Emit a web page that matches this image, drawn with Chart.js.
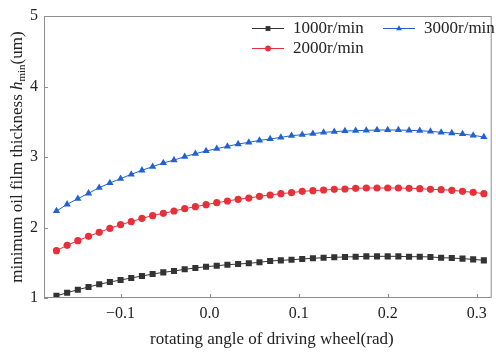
<!DOCTYPE html>
<html>
<head>
<meta charset="utf-8">
<script src="https://cdn.jsdelivr.net/npm/chart.js@4"></script>
<style>
  html, body { margin: 0; padding: 0; background: #fff; }
  #wrap { width: 496px; height: 352px; }
</style>
</head>
<body>
<div id="wrap"><canvas id="filmChart" width="496" height="352"></canvas></div>
<script>
// rotating angle (rad)
const angles = [-0.172, -0.160, -0.148, -0.136, -0.124, -0.112, -0.100, -0.088, -0.076, -0.064,
                -0.052, -0.040, -0.028, -0.016, -0.004, 0.008, 0.020, 0.032, 0.044, 0.056,
                0.068, 0.080, 0.092, 0.104, 0.116, 0.128, 0.140, 0.152, 0.164, 0.176,
                0.188, 0.200, 0.212, 0.224, 0.236, 0.248, 0.260, 0.272, 0.284, 0.296, 0.308];

// minimum oil film thickness (um)
const h1000 = [1.03, 1.075, 1.118, 1.156, 1.194, 1.227, 1.255, 1.284, 1.312, 1.34,
               1.364, 1.383, 1.407, 1.426, 1.444, 1.458, 1.472, 1.482, 1.492, 1.506,
               1.525, 1.534, 1.543, 1.553, 1.563, 1.572, 1.577, 1.582, 1.586, 1.591,
               1.591, 1.591, 1.591, 1.586, 1.586, 1.582, 1.572, 1.567, 1.558, 1.548, 1.534];
const h2000 = [1.671, 1.747, 1.813, 1.875, 1.932, 1.988, 2.04, 2.083, 2.13, 2.168,
               2.201, 2.234, 2.267, 2.295, 2.324, 2.352, 2.376, 2.40, 2.418, 2.442,
               2.461, 2.48, 2.494, 2.513, 2.522, 2.532, 2.541, 2.546, 2.556, 2.56,
               2.56, 2.56, 2.56, 2.556, 2.551, 2.541, 2.537, 2.528, 2.513, 2.499, 2.48];
const h3000 = [2.234, 2.329, 2.409, 2.485, 2.565, 2.631, 2.693, 2.754, 2.811, 2.863,
               2.915, 2.957, 3.005, 3.047, 3.085, 3.118, 3.151, 3.184, 3.208, 3.236,
               3.255, 3.279, 3.302, 3.317, 3.331, 3.35, 3.359, 3.369, 3.373, 3.378,
               3.383, 3.383, 3.383, 3.378, 3.373, 3.364, 3.35, 3.34, 3.326, 3.307, 3.284];

const seriesNames = ['1000r/min', '2000r/min', '3000r/min'];
const xTicks = [-0.1, 0.0, 0.1, 0.2, 0.3];
const yTicks = [1, 2, 3, 4, 5];

const SERIF = '"Liberation Serif", "Times New Roman", serif';
const AXIS_GRAY = '#8c8c8c';

function toPoints(ys) {
    return angles.map((a, i) => ({ x: a, y: ys[i] }));
}

function makeSet(label, ys, color, style, radius) {
    return {
        label: label,
        data: toPoints(ys),
        borderColor: color,
        backgroundColor: color,
        borderWidth: 1,
        pointStyle: style,
        pointRadius: radius,
        pointBorderWidth: 0,
        pointBackgroundColor: color,
        tension: 0
    };
}

// frame, inward ticks, titles and the two-column legend
const decorPlugin = {
    id: 'decor',
    afterDraw(chart) {
        const ctx = chart.ctx;
        const area = chart.chartArea;
        const xs = chart.scales.x, ys = chart.scales.y;
        ctx.save();

        ctx.strokeStyle = AXIS_GRAY;
        ctx.lineWidth = 1;
        ctx.strokeRect(area.left + 0.5, area.top + 0.5, area.right - area.left - 1, area.bottom - area.top - 1);

        ctx.beginPath();
        xTicks.forEach(v => {
            const px = Math.round(xs.getPixelForValue(v)) + 0.5;
            ctx.moveTo(px, area.bottom);
            ctx.lineTo(px, area.bottom - 4);
        });
        yTicks.forEach(v => {
            const py = Math.round(ys.getPixelForValue(v)) + 0.5;
            ctx.moveTo(area.left, py);
            ctx.lineTo(area.left + 4, py);
        });
        ctx.stroke();

        // x title
        ctx.fillStyle = '#222';
        ctx.font = '17px ' + SERIF;
        ctx.textAlign = 'center';
        ctx.textBaseline = 'middle';
        ctx.fillText('rotating angle of driving wheel(rad)', (area.left + area.right) / 2 + 4, 340);

        // y title with italic h and subscript "min"
        const parts = [
            { t: 'minimum oil film thickness ', f: '17px ' + SERIF, dy: 0 },
            { t: 'h', f: 'italic 17px ' + SERIF, dy: 0 },
            { t: 'min', f: '11px ' + SERIF, dy: 4 },
            { t: '(um)', f: '17px ' + SERIF, dy: 0 }
        ];
        let total = 0;
        parts.forEach(p => { ctx.font = p.f; p.w = ctx.measureText(p.t).width; total += p.w; });
        ctx.translate(18, 157);
        ctx.rotate(-Math.PI / 2);
        ctx.textAlign = 'left';
        let cx = -total / 2;
        parts.forEach(p => {
            ctx.font = p.f;
            ctx.fillText(p.t, cx, p.dy);
            cx += p.w;
        });
        ctx.setTransform(1, 0, 0, 1, 0, 0);

        // legend
        const slots = [
            { ds: 0, x: 252, y: 28 },
            { ds: 2, x: 383, y: 28 },
            { ds: 1, x: 252, y: 48 }
        ];
        slots.forEach(s => {
            const ds = chart.data.datasets[s.ds];
            ctx.strokeStyle = ds.borderColor;
            ctx.lineWidth = 1;
            ctx.beginPath();
            ctx.moveTo(s.x, s.y + 0.5);
            ctx.lineTo(s.x + 32, s.y + 0.5);
            ctx.stroke();
            ctx.fillStyle = ds.borderColor;
            Chart.helpers.drawPoint(ctx, {
                pointStyle: ds.pointStyle,
                radius: ds.pointRadius * 0.8,
                borderWidth: 0,
                rotation: 0
            }, s.x + 16, s.y + 0.5);
            ctx.fillStyle = '#222';
            ctx.font = '17px ' + SERIF;
            ctx.textAlign = 'left';
            ctx.textBaseline = 'middle';
            ctx.fillText(ds.label, s.x + 41, s.y + 1);
        });

        ctx.restore();
    }
};

new Chart(document.getElementById('filmChart'), {
    type: 'line',
    data: {
        datasets: [
            makeSet(seriesNames[0], h1000, '#333333', 'rect', 4.3),
            makeSet(seriesNames[1], h2000, '#e8303a', 'circle', 3.6),
            makeSet(seriesNames[2], h3000, '#2062d0', 'triangle', 4.2)
        ]
    },
    options: {
        responsive: false,
        animation: false,
        layout: { padding: { top: 16, right: 2, left: 0, bottom: 0 } },
        plugins: {
            legend: { display: false },
            tooltip: { enabled: false }
        },
        scales: {
            x: {
                type: 'linear',
                min: -0.186,
                max: 0.3168,
                grid: { display: false, drawTicks: false },
                border: { display: false },
                afterBuildTicks(scale) { scale.ticks = xTicks.map(v => ({ value: v })); },
                afterFit(scale) { scale.height = 54; },
                ticks: {
                    color: '#222',
                    font: { family: SERIF, size: 16 },
                    padding: 6,
                    maxRotation: 0,
                    callback: v => v.toFixed(1).replace('-', '\u2212')
                }
            },
            y: {
                min: 1,
                max: 5,
                grid: { display: false, drawTicks: false },
                border: { display: false },
                afterBuildTicks(scale) { scale.ticks = yTicks.map(v => ({ value: v })); },
                afterFit(scale) { scale.width = 44; },
                ticks: {
                    color: '#222',
                    font: { family: SERIF, size: 16 },
                    padding: 6
                }
            }
        }
    },
    plugins: [decorPlugin]
});
</script>
</body>
</html>
